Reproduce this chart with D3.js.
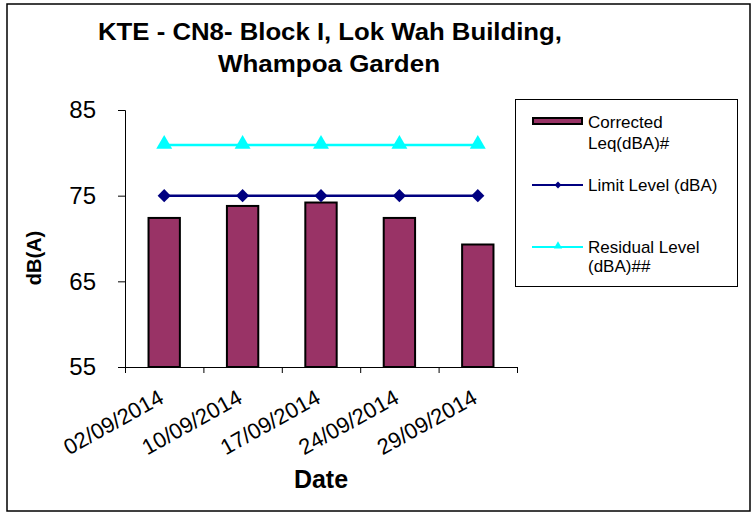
<!DOCTYPE html>
<html>
<head>
<meta charset="utf-8" />
<title>KTE - CN8- Block I, Lok Wah Building, Whampoa Garden</title>
<style>
body { margin: 0; background: #fff; }
svg text { font-family: "Liberation Sans", Arial, sans-serif; fill: #000; }
</style>
</head>
<body>
<div id="chart"></div>
<script src="https://cdnjs.cloudflare.com/ajax/libs/d3/7.8.5/d3.min.js"></script>
<script>
var dates = ["02/09/2014", "10/09/2014", "17/09/2014", "24/09/2014", "29/09/2014"]
var corrected = [72.4, 73.8, 74.2, 72.4, 69.3]
var limitLevel = [75, 75, 75, 75, 75]
var residualLevel = [80.9, 80.9, 80.9, 80.9, 80.9]
var yTicks = [55, 65, 75, 85]

!(function(){
    "use strict"

    var width = 752, height = 513
    var plot = {left: 125, right: 517, top: 110, bottom: 367}

    var svg = d3.select("#chart").append("svg")
        .attr("width", width).attr("height", height)

    // outer frame
    svg.append("rect")
        .attr("x", 7).attr("y", 4)
        .attr("width", 743).attr("height", 507)
        .attr("fill", "#fff").attr("stroke", "#000").attr("stroke-width", 1.5)

    // title (the source picture is a bit stretched sideways)
    var title = svg.append("text")
        .style("font-weight", "bold").style("font-size", "24.5px")
    title.append("tspan").attr("x", 98).attr("y", 40)
        .attr("textLength", 464).attr("lengthAdjust", "spacingAndGlyphs")
        .text("KTE - CN8- Block I, Lok Wah Building,")
    title.append("tspan").attr("x", 218).attr("y", 72)
        .attr("textLength", 222).attr("lengthAdjust", "spacingAndGlyphs")
        .text("Whampoa Garden")

    var y = d3.scaleLinear().domain([55, 85]).range([plot.bottom, plot.top])
    var x = d3.scaleBand().domain(dates).range([plot.left, plot.right])
    var xEdge = d3.scaleLinear().domain([0, dates.length]).range([plot.left, plot.right])
    var barW = x.bandwidth() / 2.5
    var cx = function(d) { return x(d) + x.bandwidth() / 2 }

    // y axis
    var yAxis = svg.append("g")
        .attr("transform", "translate(" + plot.left + ",0)")
        .call(d3.axisLeft(y).tickValues(yTicks).tickSize(7).tickPadding(22).tickFormat(d3.format("d")))
    yAxis.selectAll("text").style("font-size", "24px").attr("font-family", null)
    yAxis.selectAll("line, path").attr("stroke", "#000")

    // x axis: ticks on category boundaries
    var xAxis = svg.append("g")
        .attr("transform", "translate(0," + plot.bottom + ")")
        .call(d3.axisBottom(xEdge).tickValues(d3.range(dates.length + 1)).tickSize(6).tickFormat(""))
    xAxis.select(".domain").attr("d", "M" + plot.left + ",0.5H" + plot.right)
    xAxis.selectAll("line, path").attr("stroke", "#000")

    // bars
    svg.append("g").selectAll("rect")
        .data(corrected)
        .enter().append("rect")
        .attr("x", function(d, i) { return cx(dates[i]) - barW / 2 })
        .attr("y", function(d) { return y(d) })
        .attr("width", barW)
        .attr("height", function(d) { return y(55) - y(d) })
        .attr("fill", "#993366")
        .attr("stroke", "#000").attr("stroke-width", 2)

    var line = d3.line()
        .x(function(d, i) { return cx(dates[i]) })
        .y(function(d) { return y(d) })

    // limit level
    svg.append("path").datum(limitLevel)
        .attr("d", line).attr("fill", "none")
        .attr("stroke", "#000080").attr("stroke-width", 2.5)
    svg.append("g").selectAll("path")
        .data(limitLevel)
        .enter().append("path")
        .attr("transform", function(d, i) { return "translate(" + cx(dates[i]) + "," + y(d) + ")" })
        .attr("d", d3.symbol().type(d3.symbolDiamond2).size(110))
        .attr("fill", "#000080")

    // residual level
    svg.append("path").datum(residualLevel)
        .attr("d", line).attr("fill", "none")
        .attr("stroke", "#00ffff").attr("stroke-width", 2.5)
    svg.append("g").selectAll("path")
        .data(residualLevel)
        .enter().append("path")
        .attr("transform", function(d, i) { return "translate(" + cx(dates[i]) + "," + (y(d) - 1) + ")" })
        .attr("d", d3.symbol().type(d3.symbolTriangle).size(110))
        .attr("fill", "#00ffff")

    // x tick labels
    svg.append("g").selectAll("text")
        .data(dates)
        .enter().append("text")
        .attr("text-anchor", "end")
        .attr("transform", function(d) { return "translate(" + (cx(d) + 1) + "," + (plot.bottom + 35) + ") rotate(-29)" })
        .style("font-size", "22px")
        .text(function(d) { return d })

    // axis titles
    svg.append("text")
        .attr("x", 321).attr("y", 488)
        .attr("text-anchor", "middle")
        .style("font-weight", "bold").style("font-size", "25px")
        .text("Date")
    svg.append("text")
        .attr("transform", "translate(41,258) rotate(-90)")
        .attr("text-anchor", "middle")
        .style("font-weight", "bold").style("font-size", "20px")
        .text("dB(A)")

    // legend
    var legend = svg.append("g")
    legend.append("rect")
        .attr("x", 515.5).attr("y", 99.5).attr("width", 222).attr("height", 187)
        .attr("fill", "#fff").attr("stroke", "#000").attr("stroke-width", 1)
    legend.append("rect")
        .attr("x", 533).attr("y", 118).attr("width", 49).attr("height", 6)
        .attr("fill", "#993366").attr("stroke", "#000").attr("stroke-width", 2)
    legend.append("line")
        .attr("x1", 532).attr("x2", 583).attr("y1", 185).attr("y2", 185)
        .attr("stroke", "#000080").attr("stroke-width", 2)
    legend.append("path")
        .attr("transform", "translate(558,185)")
        .attr("d", d3.symbol().type(d3.symbolDiamond2).size(30))
        .attr("fill", "#000080")
    legend.append("line")
        .attr("x1", 532).attr("x2", 583).attr("y1", 247).attr("y2", 247)
        .attr("stroke", "#00ffff").attr("stroke-width", 2)
    legend.append("path")
        .attr("transform", "translate(558,246)")
        .attr("d", d3.symbol().type(d3.symbolTriangle).size(30))
        .attr("fill", "#00ffff")

    var legendText = [
        {y: 128, t: "Corrected"},
        {y: 149, t: "Leq(dBA)#"},
        {y: 191, t: "Limit Level (dBA)"},
        {y: 253, t: "Residual Level"},
        {y: 272, t: "(dBA)##"}
    ]
    legend.selectAll("text.lt")
        .data(legendText)
        .enter().append("text")
        .attr("class", "lt")
        .attr("x", 588).attr("y", function(d) { return d.y })
        .style("font-size", "17px")
        .text(function(d) { return d.t })
}());
</script>
</body>
</html>
